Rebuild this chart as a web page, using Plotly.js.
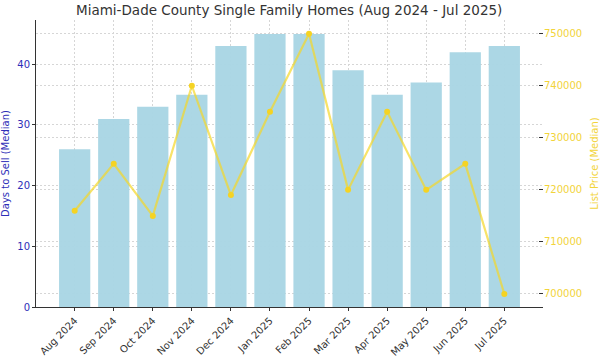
<!DOCTYPE html>
<html>
<head>
<meta charset="utf-8">
<script src="https://cdn.plot.ly/plotly-3.0.1.min.js"></script>
<style>html,body{margin:0;padding:0;background:#fff;}#chart{width:600px;height:357px;}</style>
</head>
<body>
<div id="chart"></div>
<script>
const months = ["Aug 2024","Sep 2024","Oct 2024","Nov 2024","Dec 2024","Jan 2025","Feb 2025","Mar 2025","Apr 2025","May 2025","Jun 2025","Jul 2025"];
const daysToSell = [26, 31, 33, 35, 43, 45, 45, 39, 35, 37, 42, 43];
const listPrice = [716000, 725000, 715000, 740000, 719000, 735000, 750000, 720000, 735000, 720000, 725000, 700000];
const leftTicks = [0, 10, 20, 30, 40];
const rightTicks = [700000, 710000, 720000, 730000, 740000, 750000];

const idx = months.map((m, i) => i);
const font = "DejaVu Sans, Liberation Sans, sans-serif";
const blue = "#2e2eb8";
const gold = "#f2d43a";
const gridCol = "#d6d6d6";
const gridDash = "2px,2px";

const data = [
  {
    type: "bar",
    x: idx,
    y: daysToSell,
    width: 0.8,
    marker: {color: "#a9d6e4", opacity: 0.97, line: {width: 0}},
    yaxis: "y",
    hoverinfo: "skip"
  },
  {
    type: "scatter",
    mode: "lines+markers",
    x: idx,
    y: listPrice,
    yaxis: "y2",
    line: {color: "rgba(245,215,40,0.7)", width: 2.2},
    marker: {color: "#f5d323", size: 6},
    hoverinfo: "skip"
  }
];

const layout = {
  width: 600,
  height: 357,
  margin: {l: 36, r: 57, t: 20, b: 50},
  paper_bgcolor: "#fff",
  plot_bgcolor: "#fff",
  showlegend: false,
  font: {family: font, size: 10, color: "#333"},
  title: {
    text: "Miami-Dade County Single Family Homes (Aug 2024 - Jul 2025)",
    font: {family: font, size: 13.5, color: "#333"},
    x: 0.482, xanchor: "center", y: 0.985, yanchor: "top"
  },
  xaxis: {
    range: [-0.99, 11.99],
    tickmode: "array",
    tickvals: idx,
    ticktext: months,
    tickangle: -45,
    ticks: "outside", ticklen: 3, tickcolor: "#333",
    showline: true, linecolor: "#333", linewidth: 1,
    showgrid: true, gridcolor: gridCol, griddash: gridDash, gridwidth: 1,
    zeroline: false,
    tickfont: {family: font, size: 10, color: "#333"}
  },
  yaxis: {
    range: [0, 47.3],
    tickmode: "array",
    tickvals: leftTicks,
    ticks: "outside", ticklen: 3, tickcolor: "#333",
    showline: true, linecolor: "#333", linewidth: 1,
    showgrid: true, gridcolor: gridCol, griddash: gridDash, gridwidth: 1,
    zeroline: false,
    tickfont: {family: font, size: 10, color: blue},
    title: {text: "Days to Sell (Median)", font: {family: font, size: 10, color: blue}, standoff: 10}
  },
  yaxis2: {
    overlaying: "y",
    side: "right",
    range: [697500, 752630],
    tickmode: "array",
    tickvals: rightTicks,
    ticktext: rightTicks.map(String),
    ticks: "inside", ticklen: 4, tickcolor: "#333",
    showline: false,
    showgrid: true, gridcolor: gridCol, griddash: gridDash, gridwidth: 1,
    zeroline: false,
    tickfont: {family: font, size: 10, color: gold},
    title: {text: "List Price (Median)", font: {family: font, size: 10, color: gold}, standoff: 9}
  }
};

Plotly.newPlot("chart", data, layout, {staticPlot: true, displayModeBar: false});
</script>
</body>
</html>
